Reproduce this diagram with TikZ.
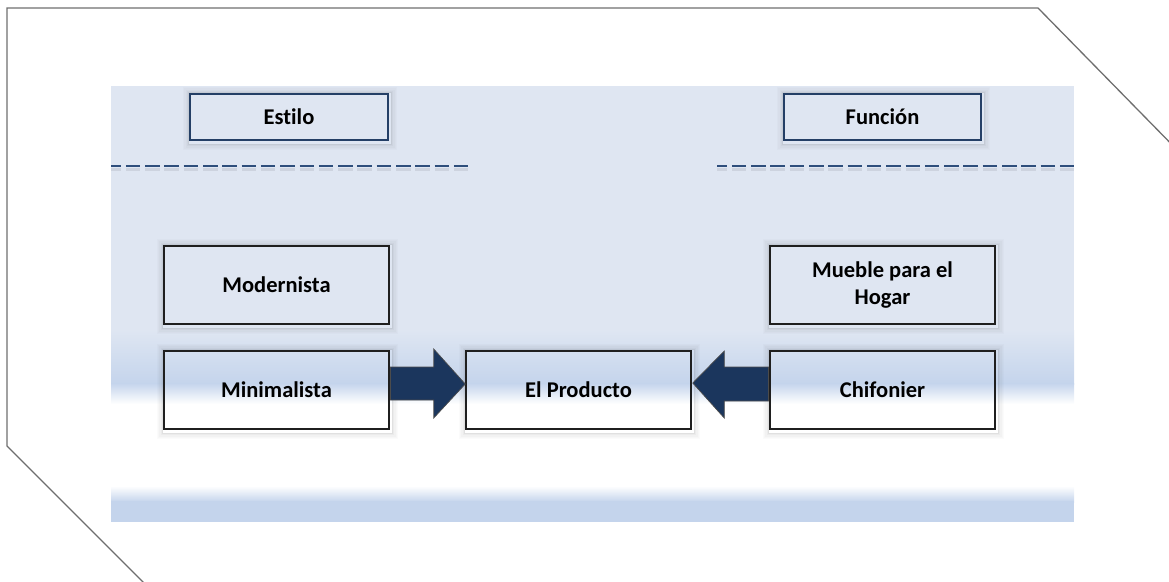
\documentclass[tikz,border=0pt]{standalone}
\usepackage{fontspec}
\setmainfont{Carlito}[Ligatures=NoCommon]
\usetikzlibrary{calc}
\definecolor{panellight}{HTML}{DFE6F2}
\definecolor{paneldark}{HTML}{C4D4EC}
\definecolor{navy}{HTML}{1B365D}
\definecolor{topborder}{HTML}{243F66}
\definecolor{dashcol}{HTML}{2E4E7C}
\definecolor{outline}{HTML}{6E6E6E}
\tikzset{
  topbox/.style={draw=topborder,line width=1.4pt,minimum width=197pt,minimum height=46pt,inner sep=0pt,font=\fontsize{22.5}{27}\selectfont\bfseries},
  mainbox/.style={draw=black!88,line width=1.5pt,minimum width=225pt,minimum height=78pt,inner sep=0pt,align=center,font=\fontsize{22.5}{27}\selectfont\bfseries},
  glowline/.style={draw=black,line width=1.2pt},
  sepline/.style={draw=dashcol,line width=2pt,dash pattern=on 14.5pt off 4.8pt,dash phase=4.5pt},
  sepshadow/.style={draw=black,opacity=0.08,line width=3pt,dash pattern=on 14.5pt off 4.8pt,dash phase=4.5pt},
  blockarrow/.style={fill=navy,draw=black!70,line width=0.7pt,line join=miter}
}
\begin{document}
\begin{tikzpicture}[x=1pt,y=-1pt]
\useasboundingbox (0,0) rectangle (1169,581);
% outer frame
\begin{scope}
\clip (0,0) rectangle (1169,581);
\draw[outline,line width=1.3pt] (207,646) -- (142,581) -- (7,446) -- (7,8) -- (1038,8) -- (1238,212);
\end{scope}
% panel background
\fill[panellight] (111,86) rectangle (1074,331);
\shade[top color=panellight,bottom color=paneldark] (111,330) rectangle (1074,384);
\shade[top color=paneldark,bottom color=white] (111,383) rectangle (1074,404);
\shade[top color=white,bottom color=paneldark] (111,486) rectangle (1074,502);
\fill[paneldark] (111,501) rectangle (1074,522);
% dashed separators
\coordinate (dl1) at (111,166);
\coordinate (dl2) at (468,166);
\coordinate (dr1) at (717,166);
\coordinate (dr2) at (1074,166);
\draw[sepshadow] ($(dl1)+(0,3)$) -- ($(dl2)+(0,3)$);
\draw[sepshadow] ($(dr1)+(0,3)$) -- ($(dr2)+(0,3)$);
\draw[sepline] (dl1) -- (dl2);
\draw[sepline] (dr1) -- (dr2);
% header boxes
\node[topbox,minimum width=198pt] (estilo) at (289,117) {Estilo};
\node[topbox] (funcion) at (882.5,117) {Función};
% main boxes
\node[mainbox] (modern) at (276.5,285) {Modernista};
\node[mainbox] (mini) at (276.5,390) {Minimalista};
\node[mainbox] (prod) at (578.5,390) {El Producto};
\node[mainbox] (mueble) at (882.5,285) {Mueble para el\\Hogar};
\node[mainbox] (chif) at (882.5,390) {Chifonier};
% soft glow around the boxes
\foreach \n in {estilo,funcion,modern,mini,prod,mueble,chif}{
  \foreach \k/\o in {1.8/0.12,3.0/0.08,4.2/0.05,5.4/0.03,6.6/0.015}{
    \draw[glowline,opacity=\o] ($(\n.north west)+(1-\k,1-\k)$) rectangle ($(\n.south east)+(1+\k,2+\k)$);
  }
}
% block arrows
\draw[blockarrow] ($(mini.east)+(0.8,-23)$) -- ($(mini.east)+(44,-23)$) -- ($(mini.east)+(44,-41)$)
  -- ($(prod.west)+(0,-6)$) -- ($(mini.east)+(44,28)$) -- ($(mini.east)+(44,10)$) -- ($(mini.east)+(0.8,10)$) -- cycle;
\draw[blockarrow] ($(chif.west)+(-0.8,-23)$) -- ($(chif.west)+(-45,-23)$) -- ($(chif.west)+(-45,-39)$)
  -- ($(prod.east)+(1,-7)$) -- ($(chif.west)+(-45,28)$) -- ($(chif.west)+(-45,11)$) -- ($(chif.west)+(-0.8,11)$) -- cycle;
\end{tikzpicture}
\end{document}
